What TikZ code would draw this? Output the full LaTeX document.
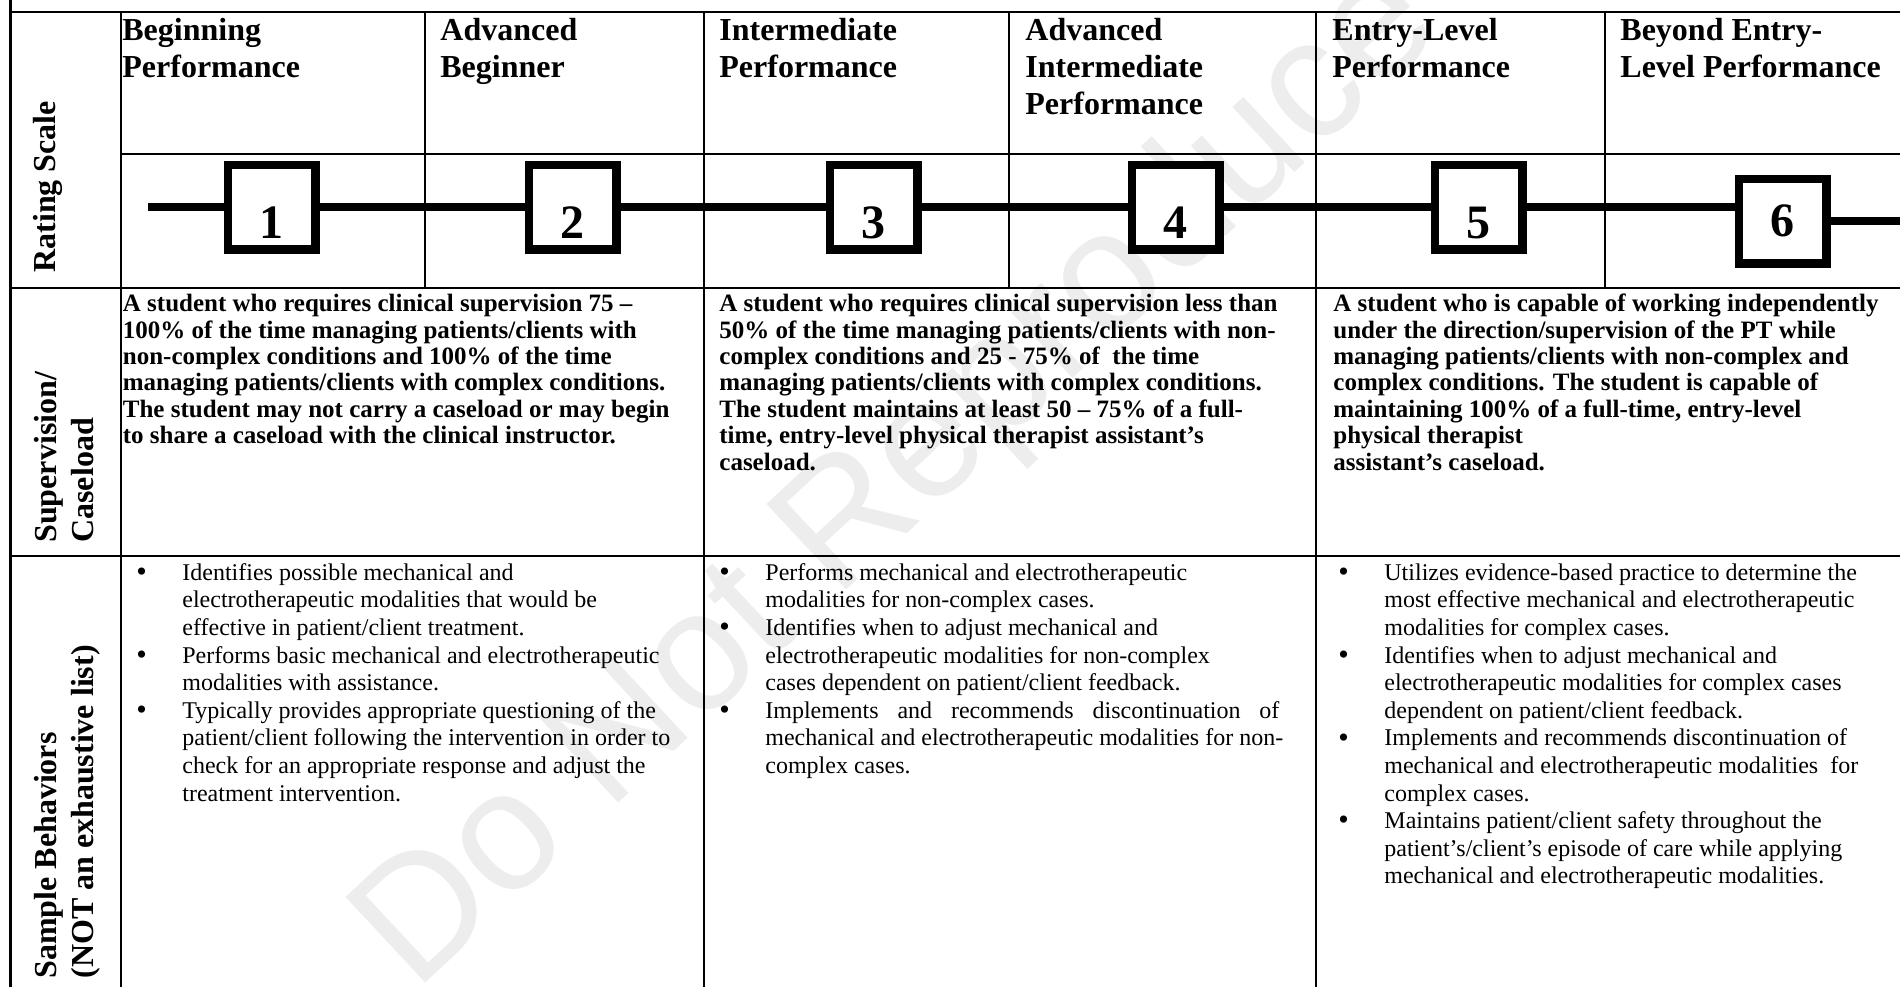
\documentclass[tikz,border=0pt]{standalone}
\usepackage{fontspec}
\setmainfont{Liberation Serif}
\newfontfamily\wmfont{Liberation Sans}
\usepackage{xcolor}
\usetikzlibrary{positioning}
\definecolor{cpiblack}{HTML}{000000}
\definecolor{cpiwater}{HTML}{EDEDED}
\newcommand{\cellstrut}{\rule{0pt}{.891em}}
\newcommand{\bul}{\llap{\makebox[23pt][l]{\raisebox{-.6pt}{\fontsize{15}{13.8}\selectfont\textbullet}}}}
\tikzset{
  gridline/.style={draw=cpiblack,line width=1.3pt},
  numbox/.style={rectangle,draw=cpiblack,fill=white,line width=4.25pt,minimum width=43.75pt,minimum height=42.25pt,inner sep=0pt,font=\fontsize{24}{28}\selectfont\bfseries},
  lowdigit/.style={text height=31pt,text depth=0pt},
  scaleline/.style={draw=cpiblack,line width=4.25pt},
  headtxt/.style={anchor=north west,inner sep=0pt,align=left,font=\fontsize{16}{18.4}\selectfont\bfseries},
  suptxt/.style={anchor=north west,inner sep=0pt,align=left,font=\fontsize{12.5}{13.2}\selectfont\bfseries},
  behtxt/.style={anchor=north west,inner sep=0pt,align=left,font=\fontsize{12}{13.8}\selectfont},
  sidelab/.style={rotate=90,anchor=base west,inner sep=0pt,font=\fontsize{16}{18.4}\selectfont\bfseries},
  watermark/.style={rotate=43,text=cpiwater,inner sep=0pt,font=\wmfont\fontsize{85}{100}\selectfont}
}
\begin{document}
\begin{tikzpicture}[x=0.5pt,y=-0.5pt,node distance=102.5pt]
% page
\path[use as bounding box,fill=white] (0,0) rectangle (1900,986);
% watermark
\node[watermark] (wm) at (900,480) {Do Not Reproduce};
% table rules
\draw[gridline] (10.5,-5) -- (10.5,995);
\draw[gridline] (121,12) -- (121,995);
\draw[gridline] (10.5,12) -- (1905,12);
\draw[gridline] (121,154) -- (1905,154);
\draw[gridline] (10.5,288) -- (1905,288);
\draw[gridline] (10.5,556) -- (1905,556);
\draw[gridline] (425,12) -- (425,288);
\draw[gridline] (1009,12) -- (1009,288);
\draw[gridline] (1605,12) -- (1605,288);
\draw[gridline] (704,12) -- (704,995);
\draw[gridline] (1316,12) -- (1316,995);
% row labels
\node[sidelab] (lrate) at (55,273) {Rating Scale};
\node[sidelab] (lsup) at (56,543) {Supervision/};
\node[sidelab] (lcase) at (93,543) {Caseload};
\node[sidelab] (lsamp) at (56,979) {Sample Behaviors};
\node[sidelab] (lnot) at (93,979) {(NOT an exhaustive list)};
% level headings
\node[headtxt] (hd1) at (122,11.5) {\cellstrut Beginning\\Performance};
\node[headtxt] (hd2) at (440,11.5) {\cellstrut Advanced\\Beginner};
\node[headtxt] (hd3) at (719,11.5) {\cellstrut Intermediate\\Performance};
\node[headtxt] (hd4) at (1025,11.5) {\cellstrut Advanced\\Intermediate\\Performance};
\node[headtxt] (hd5) at (1332,11.5) {\cellstrut Entry-Level\\Performance};
\node[headtxt] (hd6) at (1620,11.5) {\cellstrut Beyond Entry-\\Level Performance};
% supervision / caseload
\node[suptxt] (sv1) at (122.5,289) {\cellstrut A student who requires clinical supervision 75 --\\100\% of the time managing patients/clients with\\non-complex conditions and 100\% of the time\\managing patients/clients with complex conditions.\\The student may not carry a caseload or may begin\\to share a caseload with the clinical instructor.};
\node[suptxt] (sv2) at (719,289) {\cellstrut A student who requires clinical supervision less than\\50\% of the time managing patients/clients with non-\\complex conditions and 25 - 75\% of\ \ the time\\managing patients/clients with complex conditions.\\The student maintains at least 50 -- 75\% of a full-\\time, entry-level physical therapist assistant’s\\caseload.};
\node[suptxt] (sv3) at (1333,289) {\cellstrut A student who is capable of working independently\\under the direction/supervision of the PT while\\managing patients/clients with non-complex and\\complex conditions. The student is capable of\\maintaining 100\% of a full-time, entry-level\\physical therapist\\assistant’s caseload.};
% sample behaviors
\node[behtxt] (sb1) at (182,558.5) {\cellstrut\bul Identifies possible mechanical and\\electrotherapeutic modalities that would be\\effective in patient/client treatment.\\\bul Performs basic mechanical and electrotherapeutic\\modalities with assistance.\\\bul Typically provides appropriate questioning of the\\patient/client following the intervention in order to\\check for an appropriate response and adjust the\\treatment intervention.};
\node[behtxt] (sb2) at (765,558.5) {\cellstrut\bul Performs mechanical and electrotherapeutic\\modalities for non-complex cases.\\\bul Identifies when to adjust mechanical and\\electrotherapeutic modalities for non-complex\\cases dependent on patient/client feedback.\\\bul\makebox[257pt][s]{Implements and recommends discontinuation of}\\mechanical and electrotherapeutic modalities for non-\\complex cases.};
\node[behtxt] (sb3) at (1384,558.5) {\cellstrut\bul Utilizes evidence-based practice to determine the\\most effective mechanical and electrotherapeutic\\modalities for complex cases.\\\bul Identifies when to adjust mechanical and\\electrotherapeutic modalities for complex cases\\dependent on patient/client feedback.\\\bul Implements and recommends discontinuation of\\mechanical and electrotherapeutic modalities\ \ for\\complex cases.\\\bul Maintains patient/client safety throughout the\\patient’s/client’s episode of care while applying\\mechanical and electrotherapeutic modalities.};
% rating boxes
\node[numbox,lowdigit] (b1) at (271.5,207) {1};
\node[numbox,lowdigit,right=of b1] (b2) {2};
\node[numbox,lowdigit,right=of b2] (b3) {3};
\node[numbox,lowdigit,right=103pt of b3] (b4) {4};
\node[numbox,lowdigit,right=103.5pt of b4] (b5) {5};
\node[numbox,right=104pt of b5,yshift=-7pt] (b6) {6};
\coordinate (lstart) at (148,207);
\coordinate (lend) at (1910,221);
\draw[scaleline] (lstart) -- (b1);
\draw[scaleline] (b1) -- (b2);
\draw[scaleline] (b2) -- (b3);
\draw[scaleline] (b3) -- (b4);
\draw[scaleline] (b4) -- (b5);
\draw[scaleline] (b5) -- (b5.east -| b6.west);
\draw[scaleline] (b6) -- (lend);
\end{tikzpicture}
\end{document}
